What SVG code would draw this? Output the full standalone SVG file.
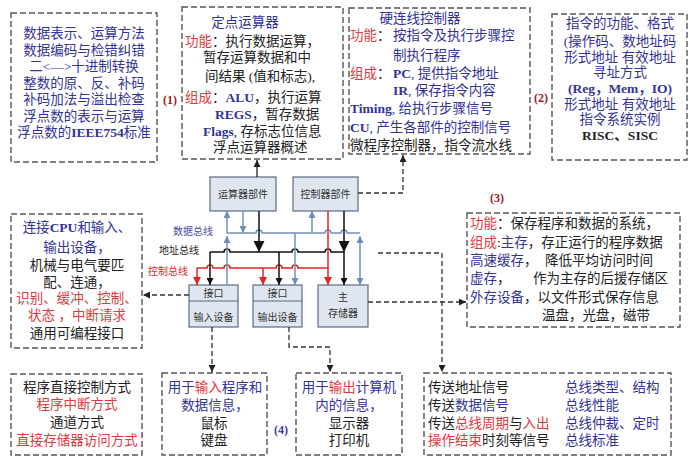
<svg xmlns="http://www.w3.org/2000/svg" width="690" height="467" viewBox="0 0 690 467">
<style>
.box{fill:none;stroke:#555;stroke-width:1.4;stroke-dasharray:6 3}
.t{font-family:"Liberation Serif","Noto Sans CJK SC",serif;font-size:13.5px;fill:#222}
.m{text-anchor:middle}
.b{fill:#33339a}
.r{fill:#e0393e}
.k{fill:#222}
.bd{font-weight:bold}
.lab{font-family:"Liberation Serif",serif;font-size:12px;font-weight:bold}
.unit{fill:#dfe6ef;stroke:#5b6b82;stroke-width:1.2}
.ul{font-family:"Noto Sans CJK SC",sans-serif;font-size:10px;fill:#333;text-anchor:middle}
.bl{font-family:"Noto Sans CJK SC",sans-serif;font-size:10px;text-anchor:end}
.dbus{stroke:#7390b8;stroke-width:1.5;fill:none}
.abus{stroke:#111;stroke-width:1.5;fill:none}
.cbus{stroke:#e02424;stroke-width:1.5;fill:none}
.dash{stroke:#333;stroke-width:1.3;stroke-dasharray:5 3;fill:none}
</style>
<defs>
<marker id="aB" viewBox="0 0 10 10" refX="10" refY="5" markerWidth="7" markerHeight="8" markerUnits="userSpaceOnUse" orient="auto-start-reverse"><path d="M0,0 L10,5 L0,10 z" fill="#6f8cb8"/></marker>
<marker id="aR" viewBox="0 0 10 10" refX="10" refY="5" markerWidth="8" markerHeight="8" markerUnits="userSpaceOnUse" orient="auto"><path d="M0,0 L10,5 L0,10 z" fill="#e02424"/></marker>
<marker id="aK" viewBox="0 0 10 10" refX="10" refY="5" markerWidth="7" markerHeight="7" markerUnits="userSpaceOnUse" orient="auto"><path d="M0,0 L10,5 L0,10 z" fill="#111"/></marker>
<marker id="aKB" viewBox="0 0 10 10" refX="10" refY="5" markerWidth="12" markerHeight="11" markerUnits="userSpaceOnUse" orient="auto"><path d="M0,0 L10,5 L0,10 z" fill="#111"/></marker>
<marker id="aD" viewBox="0 0 10 10" refX="10" refY="5" markerWidth="7" markerHeight="7" markerUnits="userSpaceOnUse" orient="auto"><path d="M0,0 L10,5 L0,10 z" fill="#222"/></marker>
</defs>
<rect width="690" height="467" fill="#fff"/>

<g id="box-data">
<rect class="box" x="11" y="13" width="146" height="149"/>
<text class="t m b" x="84" y="38">数据表示、运算方法</text>
<text class="t m b" x="84" y="54.5">数据编码与检错纠错</text>
<text class="t m b" x="84" y="71">二&lt;—&gt;十进制转换</text>
<text class="t m b" x="84" y="87.5">整数的原、反、补码</text>
<text class="t m b" x="84" y="104">补码加法与溢出检查</text>
<text class="t m b" x="84" y="120.5">浮点数的表示与运算</text>
<text class="t m b" x="84" y="137">浮点数的<tspan class="bd">IEEE754</tspan>标准</text>
</g>

<g id="box-alu">
<rect class="box" x="182" y="7" width="161" height="152"/>
<text class="t m b" x="245" y="27">定点运算器</text>
<text class="t" x="185" y="46"><tspan class="r">功能</tspan>：执行数据运算，</text>
<text class="t" x="203" y="62">暂存运算数据和中</text>
<text class="t" x="205" y="81">间结果 (值和标志),</text>
<text class="t" x="185" y="102"><tspan class="r">组成</tspan>：<tspan class="b bd">ALU</tspan>，执行运算</text>
<text class="t" x="215" y="119"><tspan class="b bd">REGS</tspan>，暂存数据</text>
<text class="t" x="203" y="136"><tspan class="b bd">Flags</tspan>, 存标志位信息</text>
<text class="t" x="213" y="152">浮点运算器概述</text>
<text class="lab" x="170" y="104" text-anchor="middle" fill="#9e1c2c">(1)</text>
</g>

<g id="box-ctrl">
<rect class="box" x="349" y="8" width="181" height="146"/>
<text class="t m b" x="420" y="23">硬连线控制器</text>
<text class="t" x="350" y="40"><tspan class="r">功能</tspan>：<tspan class="b" x="393">按指令及执行步骤控</tspan></text>
<text class="t b" x="393" y="60">制执行程序</text>
<text class="t" x="350" y="78"><tspan class="r">组成</tspan>：<tspan class="b" x="393"><tspan class="bd">PC</tspan>, 提供指令地址</tspan></text>
<text class="t b" x="393" y="95"><tspan class="bd">IR</tspan>, 保存指令内容</text>
<text class="t b" x="350" y="113"><tspan class="bd">Timing</tspan>, 给执行步骤信号</text>
<text class="t b" x="350" y="132"><tspan class="bd">CU</tspan>, 产生各部件的控制信号</text>
<text class="t" x="350" y="150">微程序控制器，指令流水线</text>
<text class="lab" x="541" y="102" text-anchor="middle" fill="#9e1c2c">(2)</text>
</g>

<g id="box-isa">
<rect class="box" x="552" y="14" width="135" height="146"/>
<text class="t m b" x="620" y="28">指令的功能、格式</text>
<text class="t m b" x="620" y="45.5">(操作码、数地址码</text>
<text class="t m b" x="620" y="62">形式地址 有效地址</text>
<text class="t m b" x="620" y="77">寻址方式</text>
<text class="t m b bd" x="620" y="93">(Reg，Mem，IO)</text>
<text class="t m b" x="620" y="109">形式地址 有效地址</text>
<text class="t m b" x="620" y="124">指令系统实例</text>
<text class="t m k bd" x="620" y="140">RISC、SISC</text>
</g>

<g id="box-io">
<rect class="box" x="11" y="214" width="131" height="134"/>
<text class="t m b" x="77" y="232">连接<tspan class="bd">CPU</tspan>和输入、</text>
<text class="t m b" x="77" y="252">输出设备，</text>
<text class="t m" x="77" y="270">机械与电气要匹</text>
<text class="t m" x="77" y="287">配、连通，</text>
<text class="t m r" x="77" y="303">识别、缓冲、控制、</text>
<text class="t m r" x="77" y="320">状态 ，中断请求</text>
<text class="t m" x="77" y="338">通用可编程接口</text>
</g>

<g id="box-mem">
<rect class="box" x="467" y="213" width="213" height="114"/>
<text class="lab" x="497" y="202" text-anchor="middle" fill="#9e1c2c">(3)</text>
<text class="t" x="470" y="228"><tspan class="r">功能</tspan>：保存程序和数据的系统，</text>
<text class="t" x="470" y="247"><tspan class="r">组成</tspan>:<tspan class="b">主存</tspan>，存正运行的程序数据</text>
<text class="t" x="470" y="265"><tspan class="b">高速缓存</tspan>，<tspan x="545">降低平均访问时间</tspan></text>
<text class="t" x="470" y="283"><tspan class="b">虚存</tspan>，<tspan x="533">作为主存的后援存储区</tspan></text>
<text class="t" x="470" y="302"><tspan class="b">外存设备</tspan>，以文件形式保存信息</text>
<text class="t" x="542" y="320">温盘，光盘，磁带</text>
</g>

<g id="box-mode">
<rect class="box" x="11" y="374" width="131" height="81"/>
<text class="t m" x="77" y="392">程序直接控制方式</text>
<text class="t m r" x="77" y="409">程序中断方式</text>
<text class="t m" x="77" y="427">通道方式</text>
<text class="t m r" x="77" y="445">直接存储器访问方式</text>
</g>

<g id="box-in">
<rect class="box" x="162" y="373" width="105" height="82"/>
<text class="t m b" x="215" y="392">用于<tspan class="r">输入</tspan>程序和</text>
<text class="t m b" x="215" y="410">数据信息，</text>
<text class="t m" x="214" y="428">鼠标</text>
<text class="t m" x="214" y="445">键盘</text>
<text class="lab" x="281" y="434" text-anchor="middle" fill="#3b3b9e">(4)</text>
</g>

<g id="box-out">
<rect class="box" x="296" y="373" width="106" height="82"/>
<text class="t m b" x="349" y="392">用于<tspan class="r">输出</tspan>计算机</text>
<text class="t m b" x="349" y="410">内的信息，</text>
<text class="t m" x="349" y="428">显示器</text>
<text class="t m" x="349" y="445">打印机</text>
</g>

<g id="box-bus">
<rect class="box" x="424" y="373" width="247" height="82"/>
<text class="t" x="428" y="392">传送地址信号</text>
<text class="t" x="428" y="410">传送<tspan class="b">数据信号</tspan></text>
<text class="t" x="428" y="428">传送<tspan class="r">总线周期</tspan>与<tspan class="r">入出</tspan></text>
<text class="t" x="428" y="445"><tspan class="r">操作结束</tspan>时刻等信号</text>
<text class="t b" x="565" y="392">总线类型、结构</text>
<text class="t b" x="565" y="410">总线性能</text>
<text class="t b" x="565" y="428">总线仲裁、定时</text>
<text class="t b" x="565" y="445">总线标准</text>
</g>

<g id="unit-alu">
<rect class="unit" x="210" y="177" width="66" height="34"/>
<text class="ul" x="243" y="198">运算器部件</text>
</g>
<g id="unit-ctrl">
<rect class="unit" x="293" y="177" width="65" height="34"/>
<text class="ul" x="325.5" y="198">控制器部件</text>
</g>
<g id="unit-in">
<rect class="unit" x="189" y="285" width="49" height="42"/>
<line x1="189" y1="301" x2="238" y2="301" stroke="#5b6b82" stroke-width="1"/>
<text class="ul" x="213.5" y="297">接口</text>
<text class="ul" x="213.5" y="321">输入设备</text>
</g>
<g id="unit-out">
<rect class="unit" x="253" y="285" width="49" height="42"/>
<line x1="253" y1="301" x2="302" y2="301" stroke="#5b6b82" stroke-width="1"/>
<text class="ul" x="277.5" y="297">接口</text>
<text class="ul" x="277.5" y="321">输出设备</text>
</g>
<g id="unit-mem">
<rect class="unit" x="318" y="285" width="50" height="42"/>
<text class="ul" x="343" y="301">主</text>
<text class="ul" x="343" y="317">存储器</text>
</g>

<g id="bus-labels">
<text class="bl" x="213" y="235" fill="#4a4aa8">数据总线</text>
<text class="bl" x="199" y="254" fill="#222">地址总线</text>
<text class="bl" x="188" y="275" fill="#e02424">控制总线</text>
</g>

<g id="connectors">
<path class="dbus" d="M227,233 H256 a3,3 0 0 1 6,0 H325 a3,3 0 0 1 6,0 H341 a3,3 0 0 1 6,0 H360"/>
<path class="abus" d="M210,252 H224 a3,3 0 0 1 6,0 H292 a3,3 0 0 1 6,0 H325 a3,3 0 0 1 6,0 H344"/>
<path class="cbus" d="M197,268 H207 a3,3 0 0 1 6,0 H224 a3,3 0 0 1 6,0 H276 a3,3 0 0 1 6,0 H292 a3,3 0 0 1 6,0 H328"/>
<path class="dbus" d="M227,285 V236" marker-end="url(#aB)"/>
<path class="dbus" d="M227,233 V211" marker-end="url(#aB)"/>
<path class="dbus" d="M243,211 V233" marker-end="url(#aB)"/>
<path class="dbus" d="M295,233 V285" marker-end="url(#aB)"/>
<path class="dbus" d="M312,233 V211" marker-end="url(#aB)"/>
<path class="dbus" d="M360,236 V285" marker-start="url(#aB)" marker-end="url(#aB)"/>
<path class="abus" d="M259,211 V252" stroke-width="2" marker-end="url(#aKB)"/>
<path class="abus" d="M344,211 V252" stroke-width="2" marker-end="url(#aKB)"/>
<path class="abus" d="M344,252 V285" marker-end="url(#aK)"/>
<path class="abus" d="M210,252 V285" marker-end="url(#aK)"/>
<path class="abus" d="M279,252 V285" marker-end="url(#aK)"/>
<path class="cbus" d="M197,268 V285" marker-end="url(#aR)"/>
<path class="cbus" d="M263,268 V285" marker-end="url(#aR)"/>
<path class="cbus" d="M328,211 V285" stroke-width="2" marker-end="url(#aR)"/>
<path d="M257,177 V160" stroke="#222" stroke-width="1.3" fill="none" marker-end="url(#aD)"/>
<path class="dash" d="M358,193 H403 V155" marker-end="url(#aD)"/>
<path class="dash" d="M189,295 H143" marker-end="url(#aD)"/>
<path class="dash" d="M368,302 H466" marker-end="url(#aD)"/>
<path class="dash" d="M378,253 H442 V372" marker-end="url(#aD)"/>
<path class="dash" d="M212,327 V372" marker-end="url(#aD)"/>
<path class="dash" d="M289,327 V347 H330 V372" marker-end="url(#aD)"/>
</g>
</svg>
